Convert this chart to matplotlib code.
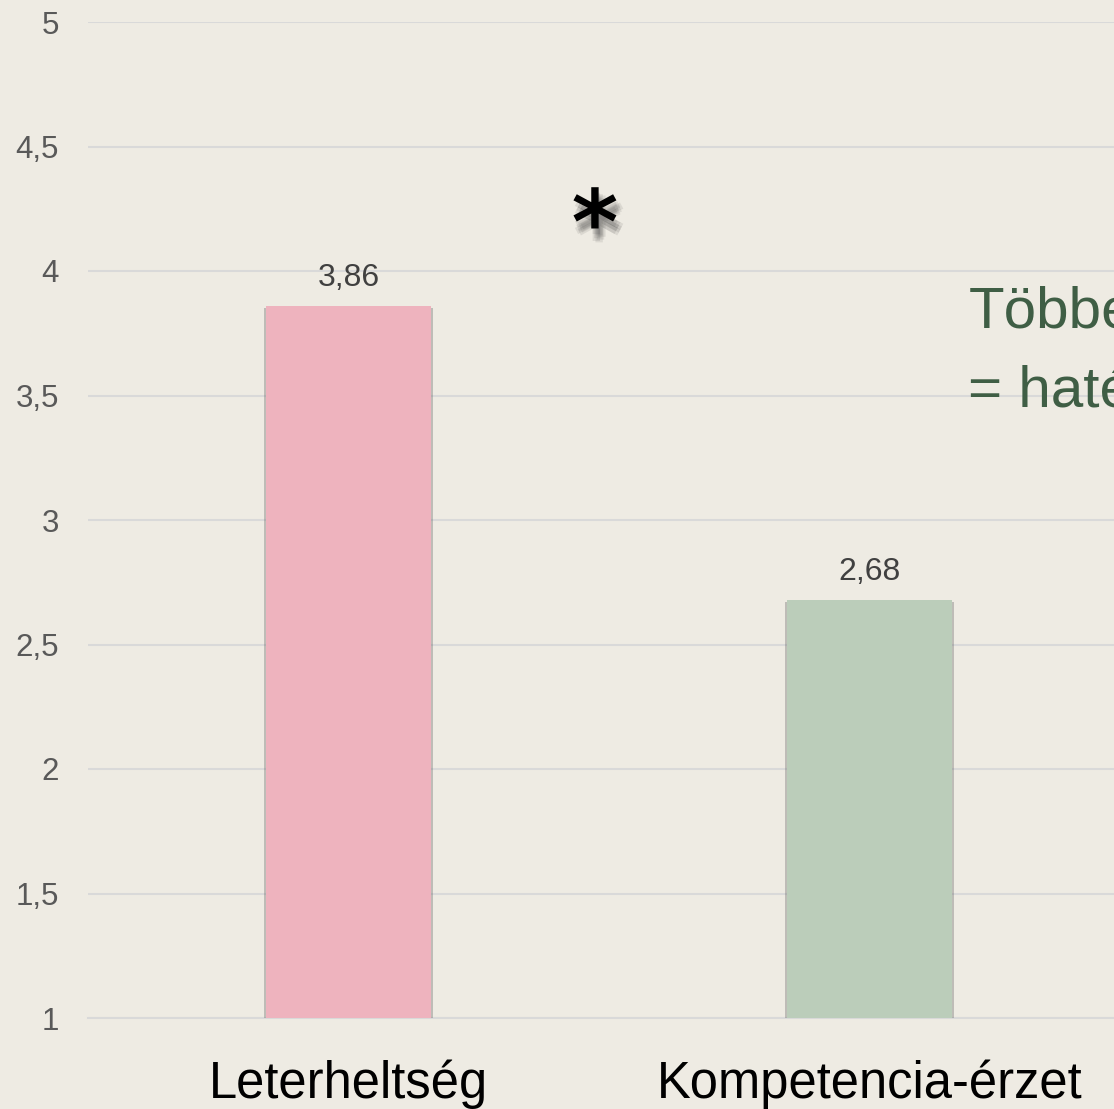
import matplotlib
matplotlib.use("Agg")
import matplotlib.pyplot as plt
import matplotlib.patheffects as pe
from matplotlib.ticker import FuncFormatter

categories = ["Leterheltség", "Kompetencia-érzet", ""]
values = [3.86, 2.68, None]
value_labels = ["3,86", "2,68"]
bar_colors = ["#eeb3be", "#bbcdba"]
yticks = [1, 1.5, 2, 2.5, 3, 3.5, 4, 4.5, 5]
note_lines = ["Többet", "= hatékonyabb"]

bg = "#eeebe3"
fig = plt.figure(figsize=(11.14, 11.09), dpi=100, facecolor=bg)
ax = fig.add_axes([88/1114, (1109-1018)/1109, 1563/1114, 996/1109], facecolor=bg)

xs = list(range(len(categories)))
shadow = [pe.SimplePatchShadow(offset=(1.5, -1.5), shadow_rgbFace="#666666", alpha=0.35),
          pe.SimplePatchShadow(offset=(-1.5, -1.5), shadow_rgbFace="#666666", alpha=0.35),
          pe.Normal()]
for x, v, c, lab in zip(xs, values, bar_colors, value_labels):
    b = ax.bar(x, v - 1, bottom=1, width=0.317, color=c, zorder=3)
    for p in b.patches:
        p.set_path_effects(shadow)
    ax.text(x, v + 0.05, lab, ha="center", va="bottom", fontsize=23,
            color="#404040", family="Liberation Sans", zorder=4)

ax.set_xlim(-0.5, len(categories) - 0.5)
ax.set_ylim(1, 5)
ax.set_yticks(yticks)
ax.yaxis.set_major_formatter(FuncFormatter(lambda v, p: (f"{v:g}").replace(".", ",")))
ax.grid(axis="y", color="#d9d9d9", linewidth=1.5, zorder=0)
ax.set_axisbelow(True)
for s in ["top", "right", "left"]:
    ax.spines[s].set_visible(False)
ax.spines["bottom"].set_color("#d9d9d9")
ax.spines["bottom"].set_linewidth(1.5)
ax.tick_params(axis="y", length=0, pad=21, labelsize=22.5, labelcolor="#595959")
for t in ax.get_yticklabels():
    t.set_family("Liberation Sans")
ax.set_xticks(xs)
ax.set_xticklabels(categories, fontsize=36.5, color="black", family="Liberation Sans")
ax.tick_params(axis="x", length=0, pad=30)

# significance marker with a soft shadow
soft = [pe.SimplePatchShadow(offset=(dx, dy), shadow_rgbFace="#222222", alpha=0.09)
        for dx, dy in [(1, -4), (3, -5), (2, -7), (4, -8), (1, -9), (3, -10), (5, -6)]]
ax.text(0.473, 4.17, "*", ha="center", va="center", fontsize=64, color="black",
        family="DejaVu Sans", fontweight="bold", zorder=5,
        path_effects=soft + [pe.Normal()])

# note text (partly outside the figure, as in the reference)
ax.text(1.19, 3.775, note_lines[0], ha="left", va="baseline",
        fontsize=42, color="#3f5e45", family="Liberation Sans", zorder=5)
ax.text(1.19, 3.454, note_lines[1], ha="left", va="baseline",
        fontsize=42, color="#3f5e45", family="Liberation Sans", zorder=5)

fig.savefig("out.png", dpi=100, facecolor=bg)
